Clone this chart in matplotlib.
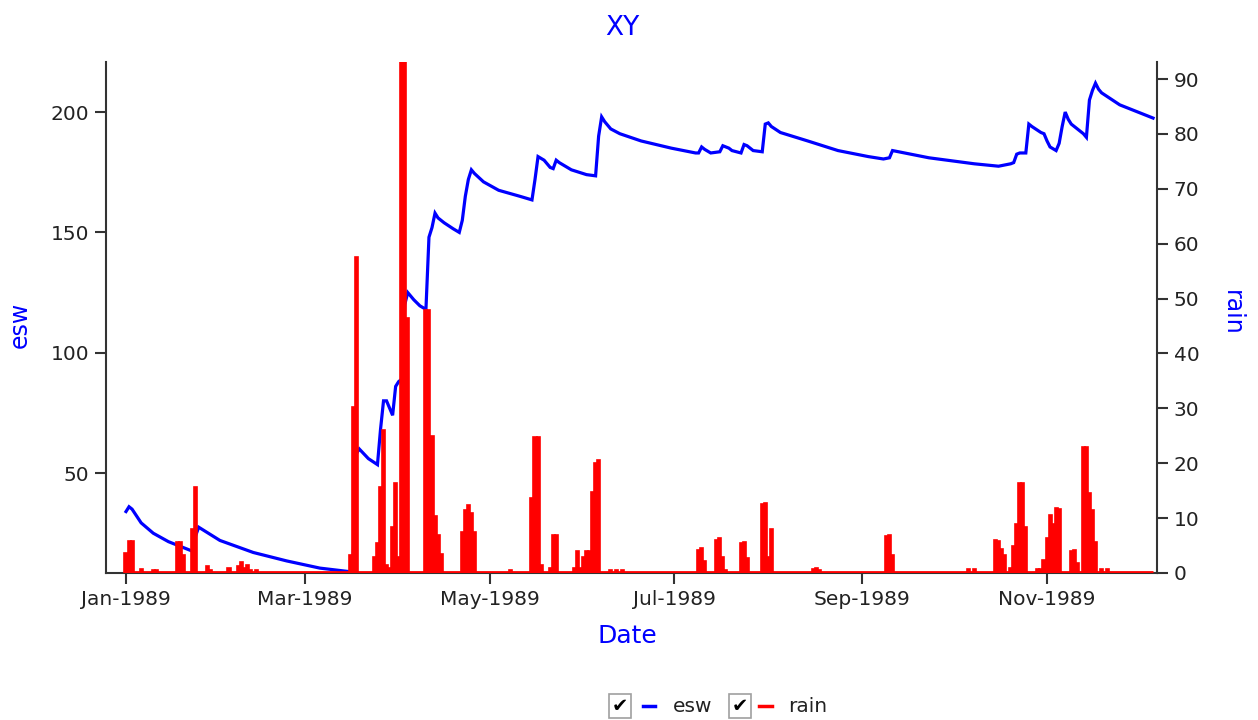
import numpy as np
import pandas as pd
import matplotlib
matplotlib.use("Agg")
import matplotlib.pyplot as plt
import matplotlib.dates as mdates
from matplotlib.lines import Line2D

plt.rcParams['font.family'] = ['DejaVu Sans']

START = pd.Timestamp('1989-01-01')

# esw readings: day offset from 1 Jan 1989 and value
esw_day = [0, 1, 2, 5, 9, 14, 21, 22, 23, 24, 31, 42, 53, 64, 72, 74, 75, 76, 77, 80, 83,
           84, 85, 86, 87, 88, 89, 90, 91, 92, 93, 95, 97, 99, 100, 101, 102, 103, 105, 108,
           110, 111, 112, 113, 114, 115, 118, 123, 130, 134, 135, 136, 138, 140, 141, 142,
           143, 147, 152, 155, 156, 157, 158, 160, 163, 170, 180, 188, 189, 190, 191, 193,
           196, 197, 199, 200, 203, 204, 205, 207, 210, 211, 212, 213, 216, 225, 235, 245,
           250, 252, 253, 255, 265, 280, 288, 290, 292, 293, 294, 295, 296, 297, 298, 299,
           302, 303, 304, 305, 307, 308, 309, 310, 311, 312, 316, 317, 318, 319, 320, 321,
           322, 328, 334, 339]
esw_val = [34, 36, 35, 29.3, 25, 21.5, 18, 17.5, 24, 27.5, 22, 17, 13.5, 10.5, 9.3, 9, 15, 58, 60, 56, 53.5,
           68, 80, 80, 77, 74, 86, 88, 89, 120, 125, 122, 119.5, 118, 148, 152, 158, 156, 154, 151.5,
           150, 155, 165, 172, 176, 174.5, 171, 167.5, 165, 163.5, 172, 181.5, 180, 177, 176.5, 180,
           179, 176, 174, 173.5, 190, 198, 196, 193, 191, 188, 185, 183, 183, 185.5, 184.5, 183,
           183.5, 186, 185, 184, 183, 186.5, 186, 184, 183.5, 195, 195.5, 194, 191.5, 188, 184, 181.5,
           180.5, 181, 184, 183.5, 181, 178.5, 177.5, 178, 178.5, 179, 182.5, 183, 183, 183, 195, 194,
           191.5, 191, 188, 185.5, 184, 187, 194, 200, 197, 195, 191, 189.5, 205, 209, 212, 209.5,
           208, 203, 200, 197.5]

# rain: days with non-zero rainfall
rain_day = [0, 1, 2, 5, 9, 10, 17, 18, 19, 22, 23, 27, 28, 34, 37, 38, 39, 40, 41, 43,
            74, 75, 76, 82, 83, 84, 85, 86, 87, 88, 89, 90, 91, 92, 93,
            99, 100, 101, 102, 103, 104, 111, 112, 113, 114, 115, 127,
            134, 135, 136, 137, 140, 141, 142, 148, 149, 150, 151, 152, 153, 154, 155, 156,
            160, 162, 164, 189, 190, 191, 195, 196, 197, 198, 203, 204, 205,
            210, 211, 212, 213, 227, 228, 229, 251, 252, 253, 278, 280,
            287, 288, 289, 290, 292, 293, 294, 295, 296, 297, 301, 302,
            303, 304, 305, 306, 307, 308, 312, 313, 314, 316, 317, 318, 319, 320, 322, 324]
rain_val = [3.6, 5.9, 5.9, 0.7, 0.5, 0.5, 5.7, 5.7, 3.3, 8, 15.7, 1.3, 0.6, 1, 1.2, 2, 1, 1.5, 0.6, 0.5,
            3.3, 30.3, 57.5, 3, 5.5, 15.7, 26, 1.5, 1, 8.4, 16.4, 3, 93.1, 93.1, 46.4,
            48, 48, 25, 10.3, 7, 3.5, 7.5, 11.5, 12.4, 11, 7.5, 0.5,
            13.6, 24.8, 24.8, 1.5, 1, 7, 7, 1, 4, 1, 3, 4, 4, 14.7, 20, 20.6,
            0.5, 0.5, 0.5, 4.2, 4.5, 2.2, 6.1, 6.4, 3, 0.5, 5.4, 5.6, 2.7,
            12.5, 12.7, 3, 8, 0.7, 1, 0.5, 6.7, 7, 3.3, 0.7, 0.7,
            6, 5.8, 4.4, 3.3, 1, 4.9, 9, 16.4, 16.4, 8.3, 0.7, 0.7,
            2.4, 6.4, 10.5, 9, 11.9, 11.6, 4, 4.1, 1.9, 22.9, 22.9, 14.6, 11.4, 5.6, 0.7, 0.7]

x_ticks = ['1989-01-01', '1989-03-01', '1989-05-01', '1989-07-01', '1989-09-01', '1989-11-01']
esw_ticks = [50, 100, 150, 200]
rain_ticks = list(range(0, 100, 10))

esw_dates = START + pd.to_timedelta(esw_day, unit='D')
rain_dates = START + pd.to_timedelta(rain_day, unit='D')

BLUE = '#0000ff'
RED = '#ff0000'
AX = '#333333'

fig = plt.figure(figsize=(12.58, 7.2), dpi=100)
ax = fig.add_axes([106/1258, 1-573/720, (1157-106)/1258, (573-62)/720])
ax2 = ax.twinx()

ax.plot(esw_dates, esw_val, color=BLUE, lw=2.3, solid_joinstyle='miter')

ax2.bar(rain_dates, rain_val, width=1.0, color=RED, edgecolor=RED, linewidth=1.2, align='center')
ax2.hlines(0.25, rain_dates[0], START + pd.Timedelta(days=esw_day[-1]), color=RED, lw=2)

ax.set_xlim(START - pd.Timedelta(days=6.6), START + pd.Timedelta(days=340.3))
ax.set_ylim(8.47, 220.8)
ax2.set_ylim(0, 93.1)

ax.set_xticks(pd.to_datetime(x_ticks))
ax.xaxis.set_major_formatter(mdates.DateFormatter('%b-%Y'))
ax.set_yticks(esw_ticks)
ax2.set_yticks(rain_ticks)

for a in (ax, ax2):
    a.spines['top'].set_visible(False)
    for s in ('left', 'right', 'bottom'):
        a.spines[s].set_color(AX)
        a.spines[s].set_linewidth(1.5)
    a.tick_params(axis='both', length=8, width=1.5, color=AX, labelcolor='#222222',
                  labelsize=14.5, pad=4)
ax.spines['right'].set_visible(False)
ax2.spines['left'].set_visible(False)
ax2.spines['bottom'].set_visible(False)

fig.text(622/1258, 1-28/720, 'XY', color=BLUE, fontsize=19, ha='center', va='center')
fig.text(627/1258, 1-636/720, 'Date', color=BLUE, fontsize=18, ha='center', va='center')
fig.text(20/1258, 1-325/720, 'esw', color=BLUE, fontsize=17, ha='center', va='center', rotation=90)
fig.text(1232/1258, 1-313/720, 'rain', color=BLUE, fontsize=17, ha='center', va='center', rotation=270)

# legend with checkboxes
ly = 1-706/720
for cx, col, lx0, lx1, tx, lab in [(620, BLUE, 643, 655, 673, 'esw'), (740, RED, 759, 772, 788, 'rain')]:
    fig.text(cx/1258, ly, '\u2714', fontsize=14, ha='center', va='center', color='black',
             bbox=dict(boxstyle='square,pad=0.12', fc='white', ec='#a0a0a0', lw=1.2))
    fig.add_artist(Line2D([lx0/1258, lx1/1258], [ly, ly], color=col, lw=2.5, transform=fig.transFigure))
    fig.text(tx/1258, ly, lab, fontsize=14.5, ha='left', va='center', color='#222222')

fig.savefig('out.png', dpi=100, facecolor='white')
